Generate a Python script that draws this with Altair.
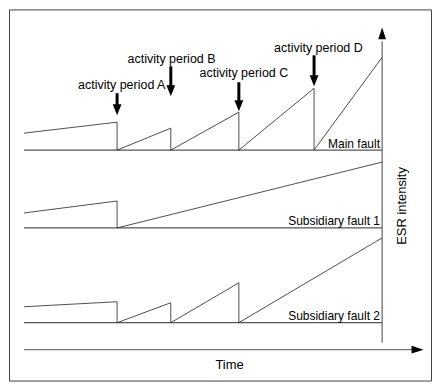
import altair as alt
import pandas as pd

# ---- data (time in arbitrary units 0..100, ESR intensity in arbitrary units) ----
events = ["A", "B", "C", "D"]
event_t = [26, 41, 60, 81]

main_t = [0, 26, 26, 41, 41, 60, 60, 81, 81, 100]
main_v = [1.7, 2.8, 0, 2.2, 0, 3.8, 0, 6.2, 0, 9.3]
sub1_t = [0, 26, 26, 100]
sub1_v = [1.5, 2.7, 0, 6.6]
sub2_t = [0, 26, 26, 41, 41, 60, 60, 100]
sub2_v = [1.6, 2.1, 0, 2.0, 0, 4.0, 0, 8.5]

fault_names = ["Main fault", "Subsidiary fault 1", "Subsidiary fault 2"]
panel_offset = [23.1, 15.3, 5.8]

# annotation geometry (intensity units above the main-fault baseline)
arrow_top = [5.7, 8.4, 6.8, 9.5]
arrow_tip = [3.5, 5.4, 3.9, 6.4]
label_t = [27.3, 41.2, 61.4, 82.2]
label_v = [6.5, 9.1, 7.7, 10.2]

# ---- tables ----
rows = []
for name, off, ts, vs in zip(fault_names, panel_offset,
                             [main_t, sub1_t, sub2_t], [main_v, sub1_v, sub2_v]):
    for i, (t, v) in enumerate(zip(ts, vs)):
        rows.append({"fault": name, "i": i, "t": t, "y": off + v})
series = pd.DataFrame(rows)

baselines = pd.DataFrame({"fault": fault_names, "t0": [0] * 3, "t1": [100] * 3,
                          "y": panel_offset})
fault_labels = pd.DataFrame({"fault": fault_names, "t": [99.4] * 3,
                             "y": [o + 0.65 for o in panel_offset]})

main_off = panel_offset[0]
arrows = pd.DataFrame({
    "t": event_t,
    "y0": [main_off + v for v in arrow_top],
    "y1": [main_off + v + 0.5 for v in arrow_tip],
    "yh": [main_off + v + 0.55 for v in arrow_tip],
})
act_labels = pd.DataFrame({
    "t": label_t,
    "y": [main_off + v for v in label_v],
    "label": ["activity period " + e for e in events],
})

W, H = 423, 372
xs = alt.Scale(domain=[-15 / 3.59, (W - 15) / 3.59], nice=False, zero=False)
ys = alt.Scale(domain=[0, H / 10], nice=False, zero=False)
X = lambda f: alt.X(f, type="quantitative", scale=xs, axis=None)
Y = lambda f: alt.Y(f, type="quantitative", scale=ys, axis=None)
FONT = "Liberation Sans"

base_rules = alt.Chart(baselines).mark_rule(color="#555", strokeWidth=1.2).encode(
    x=X("t0"), x2="t1", y=Y("y"))

lines = alt.Chart(series).mark_line(color="#222", strokeWidth=0.8).encode(
    x=X("t"), y=Y("y"), detail="fault:N", order="i:Q")

flabels = alt.Chart(fault_labels).mark_text(
    align="right", baseline="middle", font=FONT, fontSize=12, color="#000").encode(
    x=X("t"), y=Y("y"), text="fault:N")

shafts = alt.Chart(arrows).mark_rule(color="#000", strokeWidth=3).encode(
    x=X("t"), y=Y("y0"), y2="y1")
heads = alt.Chart(arrows).mark_point(
    shape="M-0.8,-1L0.8,-1L0,1Z", filled=True, color="#000", opacity=1,
    size=121, strokeWidth=0).encode(x=X("t"), y=Y("yh"))
alabels = alt.Chart(act_labels).mark_text(
    align="center", baseline="middle", font=FONT, fontSize=12.5, color="#000").encode(
    x=X("t"), y=Y("y"), text="label:N")

# axes drawn as arrows
axis_df = pd.DataFrame({"name": ["ESR intensity", "Time"]})
v_axis = alt.Chart(axis_df.iloc[[0]]).mark_rule(color="#444", strokeWidth=1).encode(
    x=alt.datum(100, scale=xs), y=alt.datum(3.8, scale=ys), y2=alt.datum(34.0))
v_head = alt.Chart(axis_df.iloc[[0]]).mark_point(
    shape="M-0.65,1L0.65,1L0,-1Z", filled=True, color="#000", opacity=1, size=144,
    strokeWidth=0).encode(x=alt.datum(100, scale=xs), y=alt.datum(34.8, scale=ys))
h_axis = alt.Chart(axis_df.iloc[[1]]).mark_rule(color="#777", strokeWidth=1.2).encode(
    x=alt.datum(0, scale=xs), x2=alt.datum(108.5), y=alt.datum(3.1, scale=ys))
h_head = alt.Chart(axis_df.iloc[[1]]).mark_point(
    shape="M-0.65,1L0.65,1L0,-1Z", filled=True, color="#000", opacity=1, size=144,
    strokeWidth=0, angle=90).encode(x=alt.datum(109.9, scale=xs), y=alt.datum(3.1, scale=ys))
t_label = alt.Chart(axis_df.iloc[[1]]).mark_text(
    font=FONT, fontSize=13, color="#000", baseline="middle").encode(
    x=alt.datum(57.4, scale=xs), y=alt.datum(1.6, scale=ys), text="name:N")
esr_label = alt.Chart(axis_df.iloc[[0]]).mark_text(
    font=FONT, fontSize=13, color="#000", baseline="middle", angle=270).encode(
    x=alt.datum(105.6, scale=xs), y=alt.datum(17.5, scale=ys), text="name:N")

chart = alt.layer(
    base_rules, lines, flabels, shafts, heads, alabels,
    v_axis, v_head, h_axis, h_head, t_label, esr_label
).properties(
    width=W, height=H, padding=1, autosize="none", background="white"
).configure_view(stroke="#444", strokeWidth=1)

chart.save("out.html", embed_options={"renderer": "svg", "actions": False})
